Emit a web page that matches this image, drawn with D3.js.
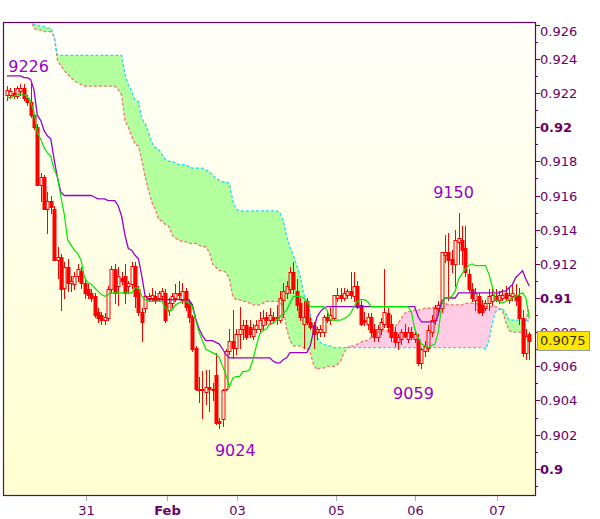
<!DOCTYPE html>
<html><head><meta charset="utf-8">
<script src="https://cdnjs.cloudflare.com/ajax/libs/d3/7.8.5/d3.min.js"></script>
<style>body{margin:0;background:#fff}svg{display:block}</style>
</head><body><svg id="c" width="600" height="519"></svg>
<script>
// prices in pips (0.xxxx * 10000)
const opens=[9219,9219,9220,9218,9221,9223,9217,9215,9207,9200,
9166,9171,9152,9157,9152,9122,9124,9106,9118,9109,
9108,9113,9116,9109,9105,9103,9101,9092,9090,9087,
9088,9105,9117,9107,9112,9113,9107,9108,9119,9105,
9092,9094,9100,9100,9101,9100,9101,9103,9093,9097,
9100,9103,9099,9104,9097,9089,9071,9047,9046,9045,
9048,9047,9055,9028,9029,9047,9069,9075,9071,9079,
9082,9084,9083,9078,9082,9082,9084,9089,9087,9089,
9088,9087,9099,9103,9105,9115,9104,9097,9085,9098,
9086,9084,9080,9080,9080,9089,9087,9088,9100,9102,
9100,9102,9104,9101,9107,9096,9087,9085,9089,9082,
9077,9082,9085,9091,9085,9080,9074,9076,9080,9076,
9080,9076,9076,9062,9069,9071,9080,9087,9094,9094,
9125,9127,9123,9120,9133,9134,9129,9114,9105,9099,
9101,9096,9094,9097,9098,9101,9099,9100,9103,9099,
9101,9102,9101,9088,9068,9079];
const highs=[9224,9223,9223,9224,9225,9225,9219,9226,9208,9202,
9173,9172,9162,9160,9154,9130,9126,9121,9123,9113,
9115,9120,9118,9111,9108,9105,9103,9094,9092,9091,
9107,9119,9120,9118,9115,9120,9110,9121,9121,9107,
9094,9102,9103,9106,9104,9104,9106,9105,9100,9103,
9108,9110,9109,9106,9099,9090,9072,9054,9057,9058,
9058,9050,9068,9030,9047,9070,9082,9093,9082,9095,
9087,9087,9087,9085,9087,9092,9093,9092,9094,9092,
9096,9104,9109,9110,9118,9121,9111,9100,9098,9100,
9089,9086,9083,9084,9090,9092,9094,9102,9106,9106,
9106,9105,9115,9115,9110,9098,9092,9091,9091,9085,
9084,9088,9117,9094,9090,9083,9079,9082,9085,9083,
9083,9080,9079,9071,9075,9084,9090,9096,9098,9127,
9137,9138,9128,9140,9150,9142,9142,9117,9109,9106,
9103,9099,9099,9105,9106,9105,9104,9105,9107,9106,
9108,9108,9106,9093,9082,9080];
const lows=[9216,9217,9217,9217,9219,9216,9213,9206,9199,9166,
9157,9152,9138,9150,9122,9112,9093,9100,9104,9104,
9105,9110,9106,9100,9100,9098,9089,9086,9085,9085,
9087,9103,9097,9096,9108,9097,9103,9106,9095,9090,
9075,9092,9098,9098,9097,9098,9099,9086,9090,9095,
9098,9100,9097,9093,9086,9069,9046,9039,9030,9038,
9034,9040,9026,9024,9025,9046,9067,9065,9067,9071,
9076,9076,9077,9076,9080,9080,9081,9085,9085,9086,
9085,9086,9089,9100,9103,9103,9093,9087,9071,9085,
9082,9071,9076,9078,9078,9086,9085,9087,9098,9098,
9099,9100,9100,9098,9094,9084,9084,9082,9078,9075,
9075,9079,9083,9080,9075,9072,9070,9073,9077,9074,
9076,9074,9061,9059,9066,9069,9078,9085,9090,9092,
9121,9099,9115,9107,9120,9120,9113,9104,9098,9093,
9091,9090,9093,9093,9096,9098,9097,9099,9099,9097,
9099,9096,9085,9066,9064,9064];
const closes=[9222,9221,9218,9223,9223,9217,9215,9207,9200,9166,
9171,9152,9157,9153,9122,9124,9105,9118,9109,9110,
9113,9117,9109,9103,9102,9100,9090,9088,9087,9089,
9105,9117,9103,9113,9110,9103,9109,9119,9101,9092,
9086,9101,9101,9102,9099,9103,9104,9087,9097,9101,
9103,9102,9104,9095,9089,9070,9047,9046,9047,9048,
9047,9046,9027,9027,9046,9069,9075,9071,9079,9082,
9084,9077,9079,9082,9084,9087,9088,9087,9090,9087,
9089,9100,9104,9107,9115,9105,9096,9089,9089,9086,
9083,9079,9082,9082,9089,9087,9090,9102,9102,9100,
9103,9104,9102,9107,9095,9085,9086,9089,9080,9077,
9082,9086,9092,9083,9077,9074,9077,9080,9078,9080,
9077,9079,9062,9070,9072,9081,9087,9094,9096,9127,
9127,9122,9120,9134,9135,9128,9115,9105,9100,9103,
9092,9092,9097,9101,9102,9099,9102,9102,9100,9102,
9103,9099,9088,9068,9078,9075];
const tenkan=[9218,9217,9218,9219,9219,9219,9218,9215,9209,9197,
9193,9188,9185,9183,9175,9171,9159,9149,9134,9131,
9128,9126,9122,9112,9109,9108,9106,9104,9102,9101,
9102,9103,9103,9103,9103,9103,9103,9103,9106,9106,
9101,9099,9098,9098,9098,9098,9098,9094,9092,9093,
9096,9097,9098,9098,9097,9095,9087,9080,9075,9070,
9069,9068,9067,9065,9060,9055,9048,9053,9054,9054,
9057,9057,9058,9064,9072,9079,9081,9082,9085,9085,
9087,9089,9091,9093,9097,9101,9101,9101,9100,9098,
9095,9095,9095,9095,9095,9093,9087,9087,9087,9087,
9088,9089,9091,9095,9098,9099,9099,9098,9095,9095,
9095,9095,9095,9095,9095,9095,9095,9095,9095,9095,
9092,9082,9077,9073,9072,9071,9072,9073,9080,9096,
9100,9100,9101,9104,9111,9114,9117,9119,9120,9119,
9119,9119,9119,9114,9107,9099,9098,9097,9098,9099,
9100,9101,9102,9103,9100,9088];
const kijun=[9230,9230,9230,9230,9230,9229,9229,9228,9222,9207,
9204,9198,9195,9193,9181,9170,9162,9160,9160,9160,
9160,9160,9160,9160,9160,9160,9159,9158,9158,9158,
9157,9157,9157,9154,9148,9137,9129,9128,9125,9123,
9113,9101,9099,9099,9099,9099,9099,9099,9099,9099,
9099,9099,9099,9099,9099,9096,9088,9082,9078,9075,
9075,9075,9074,9073,9070,9067,9065,9065,9065,9065,
9065,9065,9065,9065,9065,9065,9065,9065,9065,9063,
9062,9062,9064,9065,9068,9068,9068,9068,9068,9068,
9072,9081,9089,9092,9094,9095,9095,9095,9095,9095,
9095,9095,9095,9095,9095,9095,9095,9095,9095,9095,
9095,9095,9095,9095,9095,9095,9095,9095,9095,9095,
9095,9095,9089,9086,9086,9086,9086,9086,9090,9098,
9100,9100,9100,9100,9103,9103,9103,9103,9103,9103,
9103,9103,9103,9103,9103,9103,9103,9104,9104,9106,
9108,9112,9114,9116,9111,9107];
const spanA=[9285,9283,9280,9278,9276,9273,9270,9266,9260,9260,
9259,9259,9258,9258,9253,9242,9242,9242,9242,9242,
9242,9242,9242,9242,9242,9242,9242,9242,9242,9242,
9242,9242,9242,9242,9242,9231,9225,9221,9216,9215,
9205,9202,9197,9191,9188,9187,9184,9181,9180,9180,
9179,9178,9178,9178,9177,9176,9176,9176,9176,9175,
9174,9172,9170,9169,9168,9168,9167,9157,9152,9151,
9151,9151,9151,9151,9151,9151,9151,9151,9151,9151,
9151,9150,9145,9136,9130,9125,9119,9113,9103,9097,
9091,9082,9077,9074,9073,9072,9072,9071,9071,9071,
9071,9071,9071,9071,9071,9071,9071,9071,9071,9071,
9071,9071,9071,9071,9071,9071,9071,9071,9071,9071,
9071,9071,9071,9071,9071,9071,9071,9071,9071,9071,
9071,9071,9071,9071,9071,9071,9071,9071,9071,9071,
9071,9071,9070,9075,9085,9092,9093,9094,9091,9087,
9087,9087,9087,9087,9087,9086];
const spanB=[9282,9280,9277,9275,9272,9270,9267,9264,9258,9257,
9257,9256,9256,9256,9253,9239,9236,9233,9231,9229,
9227,9226,9225,9224,9224,9224,9224,9224,9224,9224,
9224,9224,9224,9222,9219,9204,9200,9195,9190,9189,
9181,9171,9163,9156,9152,9146,9145,9143,9142,9137,
9135,9134,9133,9133,9132,9132,9132,9131,9130,9130,
9127,9120,9118,9116,9116,9115,9111,9101,9099,9099,
9098,9098,9097,9096,9096,9096,9097,9098,9098,9098,
9098,9098,9094,9082,9075,9072,9072,9072,9071,9071,
9068,9061,9058,9059,9059,9060,9060,9060,9061,9063,
9068,9071,9072,9072,9073,9074,9075,9075,9077,9078,
9080,9081,9081,9081,9082,9083,9085,9088,9091,9092,
9092,9093,9093,9093,9094,9094,9094,9095,9096,9097,
9097,9096,9096,9096,9096,9096,9097,9097,9097,9097,
9096,9096,9095,9095,9095,9095,9094,9093,9086,9081,
9080,9080,9080,9080,9087,9095];
const xTickIdx=[23.4,47.6,68.4,97.5,121,145.5];
const xTickLabels=["31","Feb","03","05","06","07"];
const xTickBold=[false,true,false,false,false,false];
const annText=["9226","9024","9059","9150"];
const annIdx=[7,63,123,134];
const annVal=[9226,9024,9059,9150];
const lastPrice=0.9075;

const P=v=>v/10000;
const n=opens.length;
const W=600,H=519;
const pl={l:3,t:22,r:535,b:495};
const FONT="DejaVu Sans, Verdana, sans-serif";
const x=d3.scaleLinear().domain([0,n-1]).range([7,529.3]);
const y=d3.scaleLinear().domain([0.898466,0.926159]).range([pl.b,pl.t]);
const svg=d3.select("#c");
const defs=svg.append("defs");
const grad=defs.append("linearGradient").attr("id","bg").attr("x1",0).attr("y1",0).attr("x2",0).attr("y2",1);
grad.append("stop").attr("offset","0").attr("stop-color","#fffffa");
grad.append("stop").attr("offset","1").attr("stop-color","#ffffd0");
svg.append("rect").attr("x",pl.l).attr("y",pl.t).attr("width",pl.r-pl.l).attr("height",pl.b-pl.t).attr("fill","url(#bg)");
defs.append("clipPath").attr("id","plotclip").append("rect").attr("x",pl.l).attr("y",pl.t).attr("width",pl.r-pl.l).attr("height",pl.b-pl.t);

const idx=d3.range(n);
const A=idx.map(i=>y(P(spanA[i]))), B=idx.map(i=>y(P(spanB[i])));
defs.append("clipPath").attr("id","belowA").append("path")
  .attr("d",d3.area().x(i=>x(i)).y0(H).y1(i=>A[i])(idx));
defs.append("clipPath").attr("id","aboveA").append("path")
  .attr("d",d3.area().x(i=>x(i)).y0(0).y1(i=>A[i])(idx));
const g=svg.append("g").attr("clip-path","url(#plotclip)");
g.append("g").attr("clip-path","url(#belowA)").append("path")
  .attr("d",d3.area().x(i=>x(i)).y0(i=>B[i]).y1(0)(idx)).attr("fill","#b3ff9e");
g.append("g").attr("clip-path","url(#aboveA)").append("path")
  .attr("d",d3.area().x(i=>x(i)).y0(i=>B[i]).y1(H)(idx)).attr("fill","#ffcce4");
const ln=d3.line().x((d,i)=>x(i)).y(d=>y(P(d)));
g.append("path").attr("d",ln(spanB)).attr("fill","none").attr("stroke","#f77070").attr("stroke-width",1.3).attr("stroke-dasharray","3,2");
g.append("path").attr("d",ln(spanA)).attr("fill","none").attr("stroke","#22ddee").attr("stroke-width",1.3).attr("stroke-dasharray","3,2");

// candles
const cg=g.append("g");
idx.forEach(i=>{
  const cx=Math.round(x(i));
  const o=y(P(opens[i])),c=y(P(closes[i])),h=y(P(highs[i])),l=y(P(lows[i]));
  const top=Math.round(Math.min(o,c)),bot=Math.round(Math.max(o,c));
  const up=closes[i]>=opens[i];
  cg.append("line").attr("x1",cx+0.5).attr("x2",cx+0.5).attr("y1",Math.round(h)).attr("y2",top).attr("stroke","#ff0000");
  cg.append("line").attr("x1",cx+0.5).attr("x2",cx+0.5).attr("y1",bot).attr("y2",Math.round(l)+1).attr("stroke","#ff0000");
  cg.append("rect").attr("x",cx-1).attr("y",top+0.5).attr("width",3).attr("height",Math.max(bot-top,1))
    .attr("fill",up?"none":"#ff0000").attr("stroke","#ff0000").attr("stroke-width",1);
});
g.append("path").attr("d",ln(kijun)).attr("fill","none").attr("stroke","#9900cc").attr("stroke-width",1.3);
g.append("path").attr("d",ln(tenkan)).attr("fill","none").attr("stroke","#00e600").attr("stroke-width",1.2);

// frame
svg.append("rect").attr("x",pl.l+0.5).attr("y",pl.t+0.5).attr("width",pl.r-pl.l).attr("height",pl.b-pl.t)
  .attr("fill","none").attr("stroke","#660066").attr("stroke-width",1.2);

// y axis
const yt=d3.range(899,927);
yt.forEach(v=>{
  const yy=Math.round(y(v/1000))+0.5;
  svg.append("line").attr("x1",pl.r+1).attr("x2",pl.r+(v%2===0?5:3)).attr("y1",yy).attr("y2",yy).attr("stroke","#660066");
  if(v%2===0){
    svg.append("text").attr("x",540).attr("y",Math.max(yy,31)).attr("dy","0.36em")
      .attr("font-family",FONT).attr("font-size",13)
      .attr("font-weight",v%10===0?"bold":"normal").attr("fill","#660066").text(String(v/1000));
  }
});
// x axis
xTickIdx.forEach((t,k)=>{
  const xx=Math.round(x(t))+0.5;
  svg.append("line").attr("x1",xx).attr("x2",xx).attr("y1",pl.b+1).attr("y2",pl.b+6).attr("stroke","#a0aab8");
  svg.append("text").attr("x",xx).attr("y",510).attr("dy","0.36em").attr("text-anchor","middle")
    .attr("font-family",FONT).attr("font-size",13)
    .attr("font-weight",xTickBold[k]?"bold":"normal").attr("fill","#660066").text(xTickLabels[k]);
});
// annotations
const annOff=[[-2,-17],[16,22],[-8,25],[-5,-20]];
annText.forEach((t,k)=>{
  svg.append("text").attr("x",x(annIdx[k])+annOff[k][0]).attr("y",y(P(annVal[k]))+annOff[k][1]).attr("dy","0.36em")
    .attr("text-anchor","middle").attr("font-family",FONT).attr("font-size",16)
    .attr("fill","#9900cc").text(t);
});
// last price box
const ly=y(lastPrice);
svg.append("rect").attr("x",537.5).attr("y",Math.round(ly)-9.5).attr("width",52).attr("height",19)
  .attr("fill","#ffe600").attr("stroke","#8c9cac");
svg.append("text").attr("x",540).attr("y",ly).attr("dy","0.36em").attr("font-family",FONT)
  .attr("font-size",13).attr("fill","#333300").text(lastPrice.toFixed(4));
</script></body></html>
